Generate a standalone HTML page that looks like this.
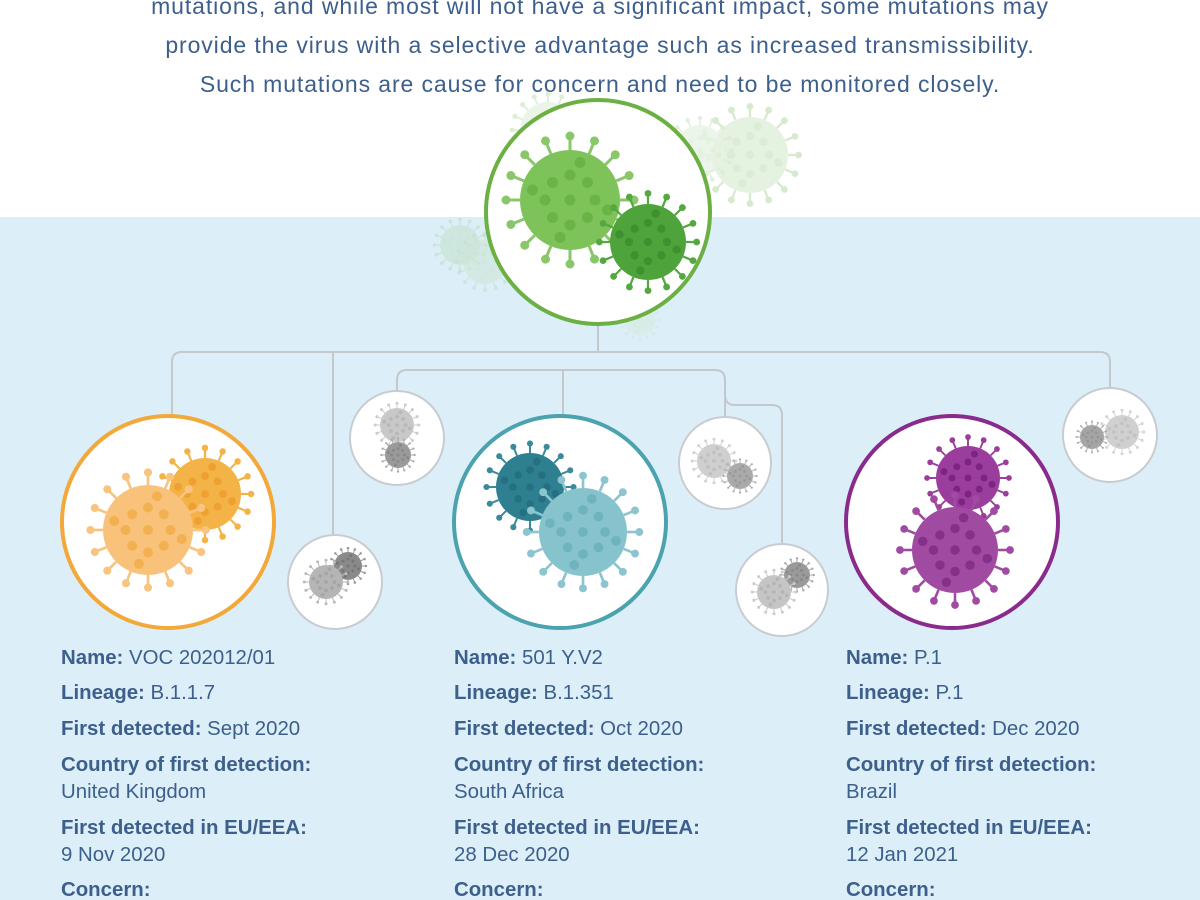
<!DOCTYPE html>
<html><head><meta charset="utf-8"><style>
html,body{margin:0;padding:0;width:1200px;height:900px;overflow:hidden;background:#fff}
svg{display:block}
text{font-family:"Liberation Sans Narrow","Liberation Sans",sans-serif;fill:#3d5f8c}
.t{font-size:23px;letter-spacing:0.9px}
.l{font-size:20.4px}
.b{font-weight:bold}
</style></head><body>
<svg id="s" width="1200" height="900" viewBox="0 0 1200 900" xmlns="http://www.w3.org/2000/svg">
<rect x="0" y="217" width="1200" height="683" fill="#dceff9"/>
<g text-anchor="middle">
<text x="600" y="14" class="t">mutations, and while most will not have a significant impact, some mutations may</text>
<text x="600" y="53" class="t">provide the virus with a selective advantage such as increased transmissibility.</text>
<text x="600" y="92" class="t">Such mutations are cause for concern and need to be monitored closely.</text>
</g>
<g id="bg"></g>
<g fill="none" stroke="#c4c8cc" stroke-width="2">
<path d="M598 322 V352 M172 420 V362 Q172 352 182 352 H1100 Q1110 352 1110 362 V388"/>
<path d="M333 352 V535"/>
<path d="M397 391 V380 Q397 370 407 370 H715 Q725 370 725 380 V417"/>
<path d="M563 370 V420"/>
<path d="M725 395 Q725 405 735 405 H772 Q782 405 782 415 V544"/>
</g>
<g id="c"></g>
<g class="l">
<text x="61" y="664"><tspan class="b">Name:</tspan> VOC 202012/01</text>
<text x="61" y="699"><tspan class="b">Lineage:</tspan> B.1.1.7</text>
<text x="61" y="735"><tspan class="b">First detected:</tspan> Sept 2020</text>
<text x="61" y="771" class="b">Country of first detection:</text>
<text x="61" y="798">United Kingdom</text>
<text x="61" y="834" class="b">First detected in EU/EEA:</text>
<text x="61" y="861">9 Nov 2020</text>
<text x="61" y="896" class="b">Concern:</text>
<text x="454" y="664"><tspan class="b">Name:</tspan> 501 Y.V2</text>
<text x="454" y="699"><tspan class="b">Lineage:</tspan> B.1.351</text>
<text x="454" y="735"><tspan class="b">First detected:</tspan> Oct 2020</text>
<text x="454" y="771" class="b">Country of first detection:</text>
<text x="454" y="798">South Africa</text>
<text x="454" y="834" class="b">First detected in EU/EEA:</text>
<text x="454" y="861">28 Dec 2020</text>
<text x="454" y="896" class="b">Concern:</text>
<text x="846" y="664"><tspan class="b">Name:</tspan> P.1</text>
<text x="846" y="699"><tspan class="b">Lineage:</tspan> P.1</text>
<text x="846" y="735"><tspan class="b">First detected:</tspan> Dec 2020</text>
<text x="846" y="771" class="b">Country of first detection:</text>
<text x="846" y="798">Brazil</text>
<text x="846" y="834" class="b">First detected in EU/EEA:</text>
<text x="846" y="861">12 Jan 2021</text>
<text x="846" y="896" class="b">Concern:</text>
</g>
</svg>
<script>
var NS="http://www.w3.org/2000/svg";
function el(p,t,a){var e=document.createElementNS(NS,t);for(var k in a)e.setAttribute(k,a[k]);p.appendChild(e);return e;}
function virus(p,cx,cy,r,body,spike,dot,op){
 var g=el(p,"g",{opacity:op||1});
 var n=16;
 for(var i=0;i<n;i++){var a=i/n*2*Math.PI;
  var x1=cx+Math.cos(a)*r,y1=cy+Math.sin(a)*r,x2=cx+Math.cos(a)*r*1.28,y2=cy+Math.sin(a)*r*1.28;
  el(g,"line",{x1:x1,y1:y1,x2:x2,y2:y2,stroke:spike,"stroke-width":Math.max(1,r*0.06)});
  el(g,"circle",{cx:x2,cy:y2,r:r*0.09,fill:spike});}
 el(g,"circle",{cx:cx,cy:cy,r:r,fill:body});
 var pts=[[0,0],[0.5,0],[-0.5,0],[0,0.5],[0,-0.5],[0.35,0.35],[-0.35,0.35],[0.35,-0.35],[-0.35,-0.35],[0.75,0.2],[-0.75,-0.2],[0.2,-0.75],[-0.2,0.75]];
 pts.forEach(function(q){el(g,"circle",{cx:cx+q[0]*r,cy:cy+q[1]*r,r:r*0.11,fill:dot});});
}
var bg=document.getElementById("bg"),c=document.getElementById("c");
virus(bg,750,155,38,"#e3f0de","#d3e8cc","#d8ebd2",0.9);
virus(bg,700,150,25,"#e8f3e4","#dcecd6","#e0efda",0.8);
virus(bg,548,130,28,"#e6f2e2","#d5e9cd","#dcedd6",0.8);
virus(bg,460,245,20,"#c9e4d4","#bfe0cc","#c4e2d0",0.7);
virus(bg,485,262,22,"#cfe6d6","#c3e1cc","#c9e4d2",0.6);
virus(bg,640,320,15,"#d5ead8","#cde6d0","#d0e8d4",0.5);
function ring(x,y,r,col,w){el(c,"circle",{cx:x,cy:y,r:r,fill:"#fff",stroke:col,"stroke-width":w});}
ring(598,212,112,"#6cb044",4);
virus(c,570,200,50,"#7ec25a","#8ac76a","#6ab446");
virus(c,648,242,38,"#4ea33a","#55a840","#3f9130");
ring(168,522,106,"#f3a83a",4);
virus(c,205,494,36,"#f3b347","#f3b347","#f0a030");
virus(c,148,530,45,"#f8c27a","#f8c480","#f3b050");
ring(560,522,106,"#4aa3ae",4);
virus(c,530,487,34,"#2e7f90","#3b8a9a","#256f80");
virus(c,583,532,44,"#86c3cc","#8cc5cf","#6fb3be");
ring(952,522,106,"#8b2a8d",4);
virus(c,968,478,32,"#9a3d9c","#9a3d9c","#7e2480");
virus(c,955,550,43,"#a04aa2","#a04aa2","#85308a");
var gr=[[335,582,47],[397,438,47],[725,463,46],[782,590,46],[1110,435,47]];
gr.forEach(function(q){ring(q[0],q[1],q[2],"#c8ccd0",2);});
virus(c,348,566,14,"#8a8a8a","#999","#777");virus(c,326,582,17,"#b5b5b5","#bbb","#a5a5a5");
virus(c,397,425,17,"#c8c8c8","#ccc","#b8b8b8");virus(c,398,455,13,"#9a9a9a","#aaa","#888");
virus(c,714,461,17,"#cfcfcf","#d2d2d2","#c0c0c0");virus(c,740,476,13,"#aaaaaa","#b2b2b2","#999");
virus(c,797,575,13,"#9a9a9a","#a5a5a5","#888");virus(c,774,592,17,"#c5c5c5","#cbcbcb","#b5b5b5");
virus(c,1122,432,17,"#d0d0d0","#d5d5d5","#c2c2c2");virus(c,1092,437,12,"#a5a5a5","#b0b0b0","#959595");
</script>
</body></html>
